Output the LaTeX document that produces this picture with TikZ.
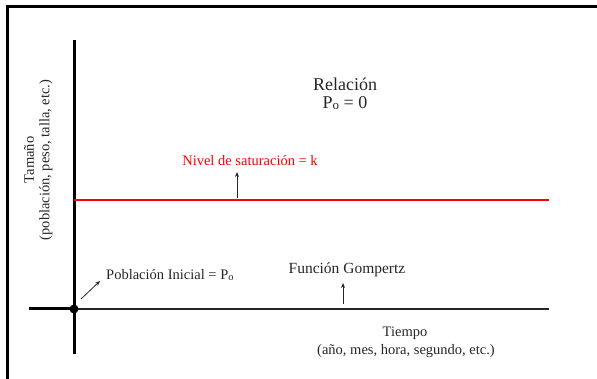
\documentclass[tikz,border=0pt]{standalone}
\usepackage{fontspec}
\setmainfont{Liberation Serif}
\usetikzlibrary{arrows.meta}
\newcommand{\subo}{\raisebox{-0.15ex}{\fontsize{0.72em}{1em}\selectfont o}}
\begin{document}
\begin{tikzpicture}[x=1pt,y=-1pt,
  lbl/.style={font=\fontsize{14.5}{17}\selectfont, inner sep=0pt, align=center, text=black!85},
  ptr/.style={-{Stealth[length=5pt,width=4pt]}, line width=0.8pt, black!85},
  axis/.style={line width=3pt, black}]
\useasboundingbox (0,0) rectangle (597,379);
% frame (top and left edges)
\coordinate (fr1) at (597,7);
\coordinate (fr2) at (7,7);
\coordinate (fr3) at (7,379);
\draw[line width=3pt] (fr1) -- (fr2) -- (fr3);
% axes
\coordinate (ytop) at (74,40);
\coordinate (ybot) at (74,354);
\coordinate (xl) at (29,309);
\coordinate (o) at (74,309);
\coordinate (xr) at (549,309);
\draw[axis] (ytop) -- (ybot);
\draw[axis] (xl) -- (o);
\draw[line width=2pt, black!85] (o) -- (xr);
\fill (o) circle (4.5);
% saturation line
\coordinate (kl) at (74,200);
\coordinate (kr) at (549,200);
\draw[line width=2pt, red] (kl) -- (kr);
% labels
\node[lbl, font=\fontsize{18}{22}\selectfont] (rel) at (345,84) {Relación};
\node[lbl, font=\fontsize{18}{22}\selectfont] (p0) at (345,103) {P\subo{} = 0};
\node[lbl, text=red] (nivel) at (250,161) {Nivel de saturación = k};
\node[lbl, anchor=west] (pobl) at (106,275) {Población Inicial = P\subo};
\node[lbl, font=\fontsize{15.5}{18}\selectfont] (gomp) at (347,270) {Función Gompertz};
\node[lbl] (tiempo) at (405,333) {Tiempo};
\node[lbl] (tiempo2) at (406,351) {(año, mes, hora, segundo, etc.)};
\node[lbl, rotate=90] (tam) at (29,160) {Tamaño};
\node[lbl, rotate=90] (tam2) at (46,160) {(población, peso, talla, etc.)};
% pointers
\coordinate (a1s) at (237,198);
\coordinate (a2s) at (343,304);
\coordinate (a3s) at (81,299);
\draw[ptr] (a1s) -- (237,172);
\draw[ptr] (a2s) -- (343,283);
\draw[ptr] (a3s) -- (100,281);
\end{tikzpicture}
\end{document}
